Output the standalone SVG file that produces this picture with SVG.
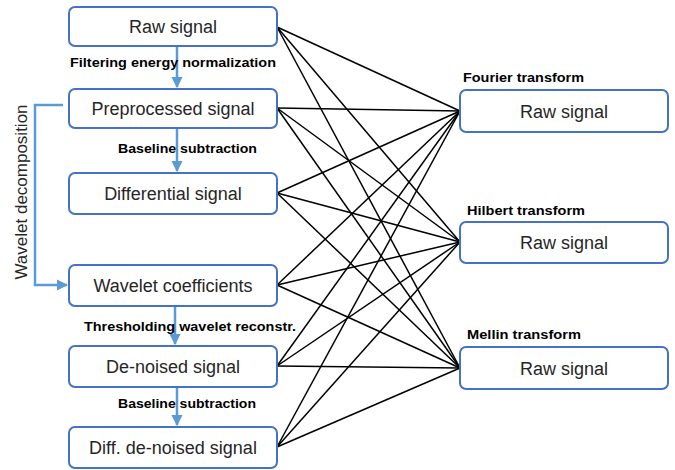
<svg xmlns="http://www.w3.org/2000/svg" width="675" height="470" viewBox="0 0 675 470">
<defs>
<style>
.box{fill:#fff;stroke:#4472C4;stroke-width:2}
.bt{font-family:"Liberation Sans",Arial,sans-serif;font-size:18px;fill:#262626;text-anchor:middle}
.lb{font-family:"Liberation Sans",Arial,sans-serif;font-size:12px;font-weight:bold;fill:#000}
.blue{stroke:#5B9BD5;stroke-width:2.5;fill:none}
.cn line{stroke:#000;stroke-width:1.5}
</style>
<marker id="ah" viewBox="0 0 10 10" refX="9" refY="5" markerWidth="4.5" markerHeight="4.5" orient="auto"><path d="M0,0L10,5L0,10z" fill="#5B9BD5"/></marker>
</defs>
<rect width="675" height="470" fill="#fff"/>
<g class="cn">
<line x1="277" y1="27" x2="460" y2="111"/><line x1="277" y1="27" x2="460" y2="242"/><line x1="277" y1="27" x2="460" y2="368"/>
<line x1="277" y1="108" x2="460" y2="111"/><line x1="277" y1="108" x2="460" y2="242"/><line x1="277" y1="108" x2="460" y2="368"/>
<line x1="277" y1="193" x2="460" y2="111"/><line x1="277" y1="193" x2="460" y2="242"/><line x1="277" y1="193" x2="460" y2="368"/>
<line x1="277" y1="285" x2="460" y2="111"/><line x1="277" y1="285" x2="460" y2="242"/><line x1="277" y1="285" x2="460" y2="368"/>
<line x1="277" y1="366" x2="460" y2="111"/><line x1="277" y1="366" x2="460" y2="242"/><line x1="277" y1="366" x2="460" y2="368"/>
<line x1="277" y1="447" x2="460" y2="111"/><line x1="277" y1="447" x2="460" y2="242"/><line x1="277" y1="447" x2="460" y2="368"/>
</g>
<g id="flow">
<line class="blue" x1="177" y1="47" x2="177" y2="87" marker-end="url(#ah)"/>
<line class="blue" x1="177" y1="129" x2="177" y2="171" marker-end="url(#ah)"/>
<line class="blue" x1="175" y1="307" x2="175" y2="344" marker-end="url(#ah)"/>
<line class="blue" x1="177" y1="388" x2="177" y2="425" marker-end="url(#ah)"/>
<polyline class="blue" points="63,105 35,105 35,285 67,285" marker-end="url(#ah)"/>
</g>
<g id="n1"><rect class="box" x="69" y="7" width="208" height="39" rx="6"/><text class="bt" x="173" y="33">Raw signal</text></g>
<g id="n2"><rect class="box" x="69" y="89" width="208" height="39" rx="6"/><text class="bt" x="173" y="115">Preprocessed signal</text></g>
<g id="n3"><rect class="box" x="69" y="173" width="208" height="41" rx="6"/><text class="bt" x="173" y="200">Differential signal</text></g>
<g id="n4"><rect class="box" x="69" y="265" width="208" height="41" rx="6"/><text class="bt" x="173" y="292">Wavelet coefficients</text></g>
<g id="n5"><rect class="box" x="69" y="346" width="208" height="41" rx="6"/><text class="bt" x="173" y="373">De-noised signal</text></g>
<g id="n6"><rect class="box" x="69" y="427" width="208" height="41" rx="6"/><text class="bt" x="173" y="454">Diff. de-noised signal</text></g>
<g id="r1"><rect class="box" x="460" y="90" width="208" height="42" rx="6"/><text class="bt" x="564" y="118">Raw signal</text></g>
<g id="r2"><rect class="box" x="460" y="222" width="208" height="41" rx="6"/><text class="bt" x="564" y="249">Raw signal</text></g>
<g id="r3"><rect class="box" x="460" y="347" width="208" height="42" rx="6"/><text class="bt" x="564" y="375">Raw signal</text></g>
<g id="labels">
<text class="lb" x="70" y="67" textLength="206" lengthAdjust="spacingAndGlyphs">Filtering energy normalization</text>
<text class="lb" x="118" y="153" textLength="139" lengthAdjust="spacingAndGlyphs">Baseline subtraction</text>
<text class="lb" x="84" y="331" textLength="212" lengthAdjust="spacingAndGlyphs">Thresholding wavelet reconstr.</text>
<text class="lb" x="118" y="408" textLength="138" lengthAdjust="spacingAndGlyphs">Baseline subtraction</text>
<text class="lb" x="463" y="82" textLength="121" lengthAdjust="spacingAndGlyphs">Fourier transform</text>
<text class="lb" x="467" y="215" textLength="118" lengthAdjust="spacingAndGlyphs">Hilbert transform</text>
<text class="lb" x="467" y="339" textLength="114" lengthAdjust="spacingAndGlyphs">Mellin transform</text>
<text x="27" y="192" transform="rotate(-90 27 192)" text-anchor="middle" font-family="'Liberation Sans',Arial,sans-serif" font-size="17" fill="#262626">Wavelet decomposition</text>
</g>
</svg>
